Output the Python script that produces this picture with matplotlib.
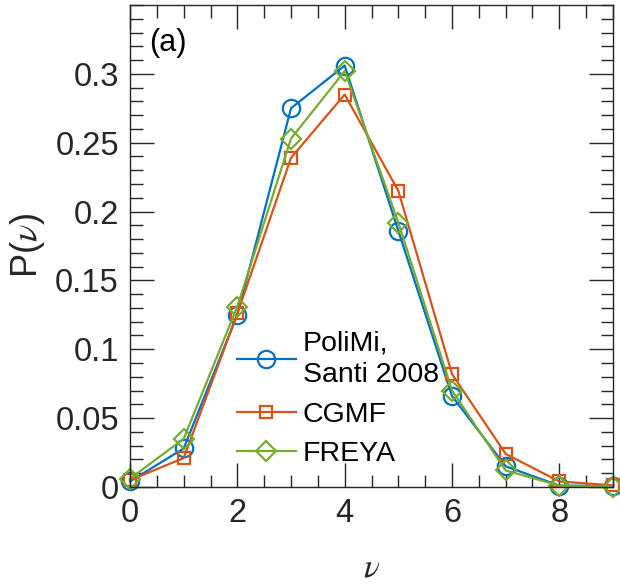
import numpy as np
from matplotlib import pyplot as plt
from matplotlib.ticker import MultipleLocator

plt.rcParams['font.family'] = ['Liberation Sans', 'DejaVu Sans']
plt.rcParams['mathtext.fontset'] = 'stix'

nu = [0, 1, 2, 3, 4, 5, 6, 7, 8, 9]
polimi = [0.004, 0.028, 0.125, 0.275, 0.306, 0.186, 0.066, 0.015, 0.001, 0.0008]
cgmf = [0.005, 0.021, 0.126, 0.239, 0.285, 0.215, 0.082, 0.024, 0.004, 0.0012]
freya = [0.006, 0.035, 0.131, 0.253, 0.302, 0.192, 0.070, 0.012, 0.001, 0.0002]
labels = ['PoliMi,\nSanti 2008', 'CGMF', 'FREYA']

fig = plt.figure(figsize=(6.2, 5.87), dpi=100)
ax = fig.add_axes([0.2097, 0.1704, 0.9887 - 0.2097, 0.9915 - 0.1704])

ax.plot(nu, polimi, 'o-', color='#0072BD', mfc='none', ms=12.5, mew=1.6, lw=1.6, label=labels[0], clip_on=False)
ax.plot(nu, cgmf, 's-', color='#D95319', mfc='none', ms=9, mew=1.6, lw=1.6, label=labels[1], clip_on=False)
ax.plot(nu, freya, 'D-', color='#77AC30', mfc='none', ms=10, mew=1.6, lw=1.6, label=labels[2], clip_on=False)

ax.set_xlim(0, 9)
ax.set_ylim(0, 0.35)
ax.xaxis.set_major_locator(MultipleLocator(2))
ax.xaxis.set_minor_locator(MultipleLocator(0.5))
ax.yaxis.set_minor_locator(MultipleLocator(0.01))
ax.set_yticks([0, 0.05, 0.1, 0.15, 0.2, 0.25, 0.3])
ax.set_yticklabels(['0', '0.05', '0.1', '0.15', '0.2', '0.25', '0.3'])

ax.tick_params(which='both', direction='in', top=True, right=True, colors='#262626', labelsize=23.5, width=1)
ax.tick_params(which='major', length=17, pad=8)
ax.tick_params(which='minor', length=9)
for s in ax.spines.values():
    s.set_color('#262626')
    s.set_linewidth(1)

ax.set_xlabel(r'$\nu$', fontsize=24, color='#262626')
ax.xaxis.set_label_coords(0.5, -0.135)
ax.set_ylabel(r'P($\nu$)', fontsize=26, color='#262626')
ax.yaxis.set_label_coords(-0.172, 0.5)
ax.text(0.04, 0.905, '(a)', transform=ax.transAxes, fontsize=22, color='k')

leg = ax.legend(loc='upper left', bbox_to_anchor=(0.168, 0.378), frameon=False, fontsize=20.5,
                handlelength=2.07, handletextpad=0.25, labelspacing=0.46, borderaxespad=0.5)
for t in leg.get_texts():
    t.set_linespacing(1.3)

plt.savefig('out.png', dpi=100)
